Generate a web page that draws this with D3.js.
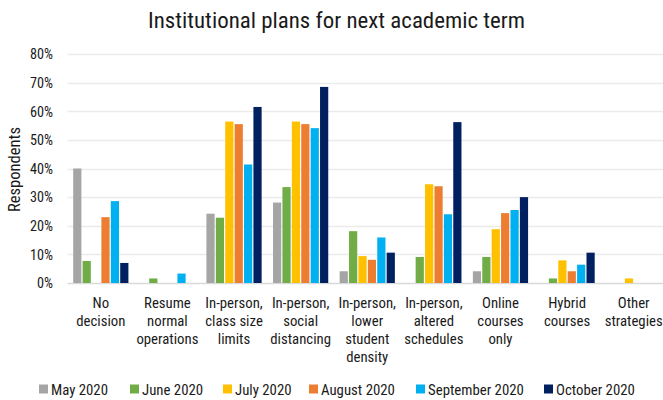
<!DOCTYPE html>
<html><head><meta charset="utf-8">
<script src="https://cdn.jsdelivr.net/npm/d3@7"></script>
<style>
html,body{margin:0;padding:0;background:#fff;}
text{font-family:"Roboto Condensed",Roboto,"Liberation Sans",sans-serif;fill:#1a1a1a;}
</style></head>
<body><svg id="c" width="663" height="400"></svg>
<script>
const categories = [
  ["No","decision"],
  ["Resume","normal","operations"],
  ["In-person,","class size","limits"],
  ["In-person,","social","distancing"],
  ["In-person,","lower","student","density"],
  ["In-person,","altered","schedules"],
  ["Online","courses","only"],
  ["Hybrid","courses"],
  ["Other","strategies"]
];
const seriesNames = ["May 2020","June 2020","July 2020","August 2020","September 2020","October 2020"];
const seriesColors = ["#A5A5A5","#70AD47","#FFC000","#ED7D31","#00B0F0","#002060"];
const may2020  = [40.0, 0,   24.2, 28.1, 4.1, 0,    4.1, 0,   0];
const june2020 = [7.7,  1.6, 22.8, 33.5, 18.1, 9.1, 9.1, 1.6, 0];
const july2020 = [0,    0,   56.4, 56.4, 9.4, 34.5, 18.8, 7.9, 1.6];
const aug2020  = [23.0, 0,   55.5, 55.5, 8.1, 33.8, 24.4, 4.1, 0];
const sep2020  = [28.6, 3.3, 41.4, 54.1, 15.9, 24.0, 25.5, 6.4, 0];
const oct2020  = [7.0,  0,   61.5, 68.5, 10.6, 56.2, 30.0, 10.6, 0];
const yTicks = [0,10,20,30,40,50,60,70,80];
const titleText = "Institutional plans for next academic term";
const yAxisTitle = "Respondents";

const seriesValues = [may2020, june2020, july2020, aug2020, sep2020, oct2020];

const svg = d3.select("#c");
// measure natural width of a sample string at a font size
function natural(str, size){
  const t = svg.append("text").attr("font-size", size).text(str);
  const w = t.node().getComputedTextLength();
  t.remove();
  return w;
}
function fit(sel, factor){
  sel.each(function(){
    const w = this.getComputedTextLength();
    if (w > 0) { this.setAttribute("textLength", (w*factor).toFixed(2)); this.setAttribute("lengthAdjust","spacingAndGlyphs"); }
  });
}

const m = {left:67.5, right:-4, top:54, bottom:117};
const W = 663, H = 400;
const x0 = d3.scaleBand().domain(d3.range(categories.length)).range([m.left, W - m.right]).paddingInner(0).paddingOuter(0);
const x1 = d3.scaleBand().domain(d3.range(seriesNames.length)).range([5.1, x0.bandwidth()-5.1]).padding(0);
const y = d3.scaleLinear().domain([0,80]).range([H - m.bottom, m.top]);

// gridlines
svg.append("g").selectAll("line").data(yTicks).join("line")
  .attr("x1", m.left).attr("x2", W)
  .attr("y1", d=>Math.round(y(d))+0.5).attr("y2", d=>Math.round(y(d))+0.5)
  .attr("stroke", d=> d===0 ? "#D9D9D9" : "#EBEBEB").attr("stroke-width",1.3);

// y axis labels
const TICK_FS = 15;
const yAxis = d3.axisLeft(y).tickValues(yTicks).tickFormat(d=>d+"%").tickSize(0).tickPadding(0);
const ga = svg.append("g").attr("transform",`translate(53,0)`).call(yAxis);
ga.select(".domain").remove();
ga.attr("font-size",null).attr("font-family",null);
ga.selectAll("text").attr("font-size",TICK_FS).style("fill","#1a1a1a");
fit(ga.selectAll("text"), 23/natural("80%", TICK_FS));

// bars
const groups = svg.append("g").selectAll("g").data(categories).join("g")
  .attr("transform",(d,i)=>`translate(${x0(i)},0)`);
groups.selectAll("rect").data((d,i)=>seriesValues.map((s,k)=>({k, v:s[i]})).filter(e=>e.v>0)).join("rect")
  .attr("x", e=>x1(e.k)+0.6).attr("width", x1.bandwidth()-1.2)
  .attr("y", e=>y(e.v)).attr("height", e=>y(0)-y(e.v))
  .attr("fill", e=>seriesColors[e.k]);

// category labels
const CAT_FS = 15;
const cl = svg.append("g").selectAll("text").data(categories).join("text")
  .attr("text-anchor","middle").attr("font-size",CAT_FS)
  .attr("x",(d,i)=>x0(i)+x0.bandwidth()/2);
cl.each(function(lines, i){
  const t = d3.select(this);
  lines.forEach((ln,j)=>{
    t.append("tspan").attr("x", x0(i)+x0.bandwidth()/2).attr("y", 307.5 + j*18).text(ln);
  });
});
fit(cl.selectAll("tspan"), 62/natural("operations", CAT_FS));

// title
const tt = svg.append("text").attr("x",336.5).attr("y",27.5).attr("text-anchor","middle").attr("font-size",22).text(titleText);
fit(tt, 377/natural(titleText, 22));

// y-axis title
const yt = svg.append("text").attr("transform","translate(20,169.5) rotate(-90)").attr("text-anchor","middle").attr("font-size",16).text(yAxisTitle);
fit(yt, 85/natural(yAxisTitle, 16));

// legend
const LEG_FS = 15.5;
const legX = [39,130,223,309,416,544];
const lg = svg.append("g").selectAll("g").data(seriesNames).join("g").attr("transform",(d,i)=>`translate(${legX[i]},0)`);
lg.append("rect").attr("x",0).attr("y",384.5).attr("width",9).attr("height",9).attr("fill",(d,i)=>seriesColors[i]);
const lt = lg.append("text").attr("x",12).attr("y",395).attr("font-size",LEG_FS).text(d=>d);
fit(lt, 57/natural("May 2020", LEG_FS));
</script></body></html>
